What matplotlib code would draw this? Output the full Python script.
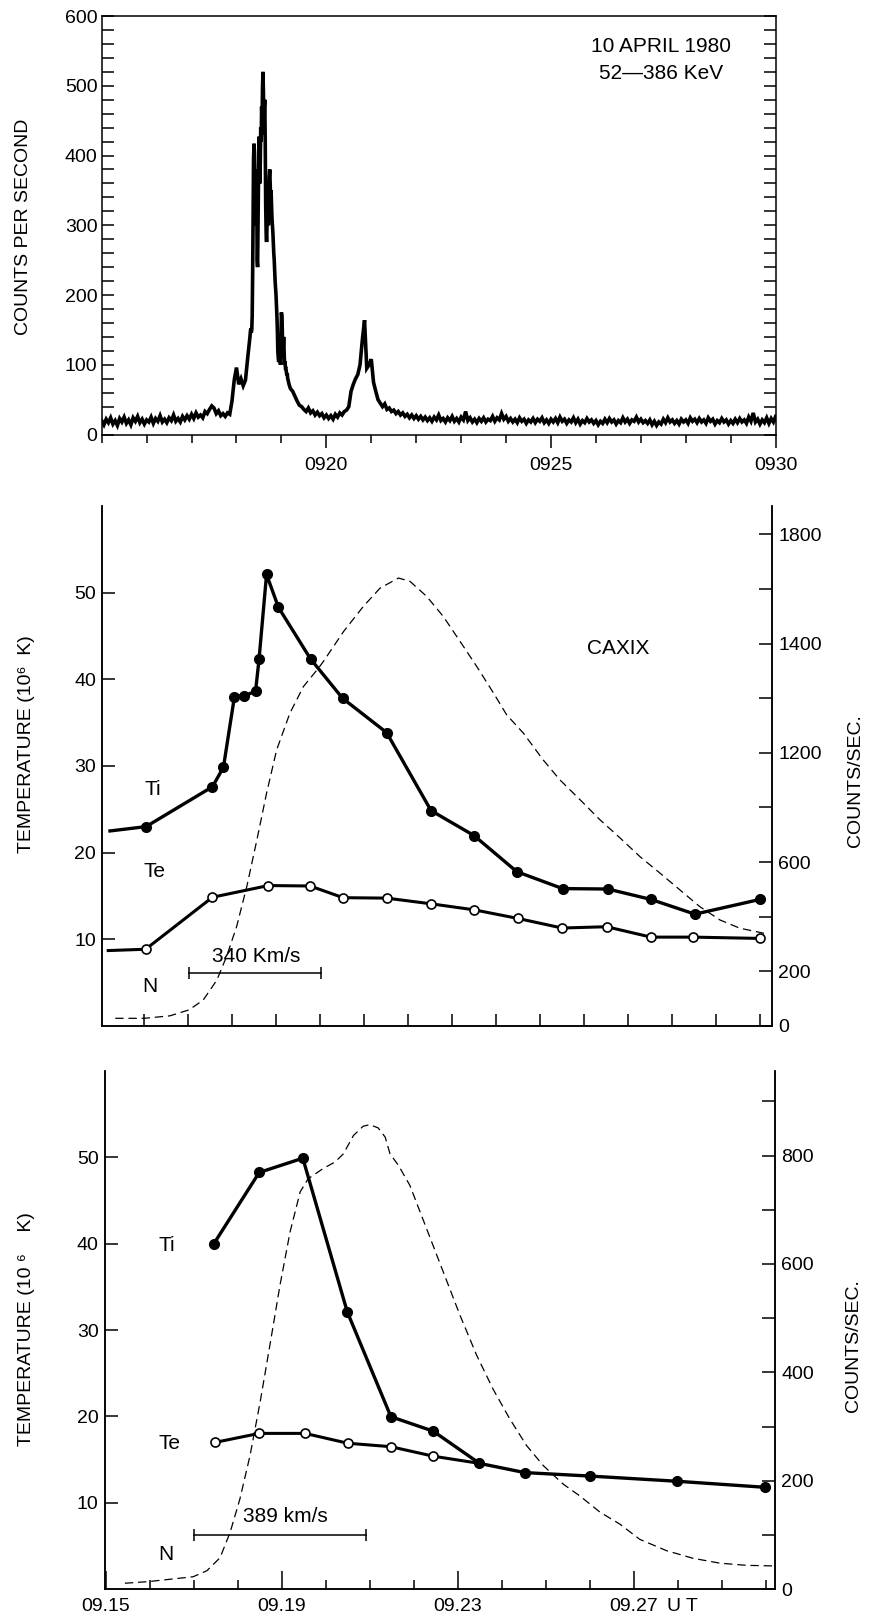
import numpy as np
import matplotlib
matplotlib.use("Agg")
import matplotlib.pyplot as plt
from matplotlib.ticker import MultipleLocator, FixedLocator, FixedFormatter
from matplotlib.transforms import blended_transform_factory, offset_copy

plt.rcParams['font.family'] = ['Liberation Sans', 'DejaVu Sans']
plt.rcParams['lines.scale_dashes'] = False

# ---- panel 1: hard X-ray counts, 10 April 1980 (time in minutes after 09:00)
cps_a = [20, 14, 22, 17, 24, 15, 20, 13, 23, 18,
         25, 16, 21, 14, 24, 19, 26, 17, 22, 15,
         21, 18, 25, 16, 23, 19, 27, 18, 22, 17,
         24, 20, 28, 19, 23, 18, 26, 21, 27, 22,
         29, 23, 31, 25, 28, 24, 33, 30, 36, 41,
         38, 30, 34, 27, 30, 26, 31, 29, 48, 78,
         96, 72, 80, 70, 78, 110]          # 15.00 .. 18.25, every 0.05 min
cps_b = [140, 148, 152, 146, 150, 170, 230, 320, 395, 417,
         405, 360, 300, 330, 380, 360, 250, 240, 300, 370,
         427, 400, 360, 390, 440, 420, 470, 450, 500, 520,
         490, 430, 470, 480, 420, 330, 290, 276, 300, 340,
         330, 300, 350, 370, 380, 360, 340, 350, 330, 310,
         300, 290, 275, 260, 250, 235, 220, 210, 200, 185,
         170, 150, 120, 110, 104, 112, 106, 110, 100, 130,
         175, 170, 150, 110, 125, 140, 120, 100, 105, 95,
         95, 90, 85, 88, 80, 78, 75, 72, 70, 68, 66]   # 18.30 .. 19.20, every 0.01 min
cps_c = [62, 55, 48, 42, 40,
         36, 33, 38, 31, 34, 28, 32, 27, 30, 24,
         28, 23, 27, 22, 29, 25, 31, 28, 33, 35,
         40, 62, 72, 80, 86, 100, 135, 164, 95, 100,
         108, 75, 62, 50, 45, 40, 44, 36, 38, 33,
         35, 30, 33, 28, 31, 26, 29, 24, 28, 23,
         27, 22, 26, 21, 25, 20, 24, 19, 25, 21,
         28, 20, 23, 18, 24, 20, 26, 19, 23, 18,
         25, 21, 33, 20, 24, 18, 22, 17, 23, 19,
         24, 18, 22, 20, 26, 19, 24, 21, 30, 22,
         26, 19, 23, 18, 22, 17, 24, 19, 22, 16,
         21, 18, 23, 17, 22, 19, 24, 17, 21, 16,
         22, 18, 23, 17, 25, 19, 22, 16, 21, 18,
         24, 17, 22, 15, 20, 17, 23, 18, 21, 16,
         20, 14, 19, 16, 22, 17, 23, 18, 21, 15,
         20, 17, 24, 18, 22, 16, 21, 19, 25, 18,
         22, 17, 20, 16, 21, 14, 19, 13, 18, 15,
         22, 17, 24, 18, 21, 16, 20, 15, 22, 18,
         21, 16, 24, 19, 22, 17, 23, 18, 21, 16,
         24, 19, 22, 15, 20, 17, 23, 18, 21, 15,
         20, 16, 22, 17, 23, 18, 21, 16, 25, 19,
         31, 18, 22, 15, 21, 17, 24, 16, 23, 18,
         26]                                # 19.25 .. 30.00, every 0.05 min

# ---- panel 2: CAXIX temperatures and counts
ti2_t = [15.22, 16.04, 17.55, 17.80, 18.05, 18.27, 18.53, 18.61, 18.78, 19.05, 19.78,
         20.51, 21.51, 22.52, 23.50, 24.47, 25.51, 26.54, 27.52, 28.52, 30.0]
ti2_T = [22.5, 23.0, 27.6, 29.85, 38.0, 38.1, 38.6, 42.35, 52.1, 48.3, 42.35,
         37.8, 33.85, 24.85, 21.96, 17.8, 15.85, 15.8, 14.6, 12.9, 14.6]
te2_t = [15.18, 16.03, 17.55, 18.82, 19.77, 20.52, 21.51, 22.51, 23.50, 24.50,
         25.50, 26.51, 27.52, 28.48, 30.0]
te2_T = [8.7, 8.85, 14.85, 16.2, 16.15, 14.8, 14.75, 14.1, 13.4, 12.4,
         11.3, 11.45, 10.25, 10.25, 10.1]
n2_t = [15.34, 16.0, 16.58, 17.02, 17.34, 17.65, 17.87, 18.1, 18.33, 18.56, 18.78,
        19.01, 19.31, 19.62, 19.96, 20.07, 20.53, 20.98, 21.36, 21.78, 22.04, 22.42,
        22.80, 23.18, 23.56, 23.94, 24.24, 24.62, 25.07, 25.45, 25.91, 26.36, 26.82,
        27.27, 27.73, 28.18, 28.63, 29.09, 29.54, 30.16]
n2_c = [28, 28, 37, 59, 95, 168, 254, 364, 510, 681, 852,
        1011, 1145, 1243, 1310, 1334, 1444, 1536, 1603, 1640, 1628, 1573,
        1499, 1408, 1316, 1219, 1139, 1072, 974, 901, 828, 755, 688,
        620, 559, 498, 437, 388, 358, 337]
r2_ticks = [0, 200, 400, 600, 800, 1000, 1200, 1400, 1600, 1800]
r2_labels = ['0', '200', '', '600', '', '1200', '', '1400', '', '1800']

# ---- panel 3
ti3_t = [17.46, 18.49, 19.48, 20.49, 21.48, 22.44, 23.49, 24.52, 26.0, 27.97, 29.97]
ti3_T = [40.0, 48.25, 49.9, 32.1, 19.97, 18.3, 14.57, 13.5, 13.1, 12.5, 11.8]
te3_t = [17.49, 18.49, 19.53, 20.50, 21.48, 22.44, 23.49]
te3_T = [17.0, 18.04, 18.04, 16.9, 16.5, 15.4, 14.57]
n3_t = [15.44, 15.97, 16.99, 17.30, 17.60, 17.83, 18.05, 18.28, 18.51, 18.73, 18.96,
        19.19, 19.42, 19.60, 19.94, 20.21, 20.40, 20.63, 20.85, 21.0, 21.19, 21.35,
        21.46, 21.65, 21.91, 22.29, 22.67, 23.05, 23.43, 23.80, 24.18, 24.56, 24.94,
        25.39, 25.77, 26.23, 26.68, 27.13, 27.74, 28.34, 28.95, 29.56, 30.16]
n3_c = [11, 14, 23, 34, 58, 105, 166, 246, 345, 449, 560,
        659, 733, 757, 776, 788, 803, 837, 854, 857, 851, 834,
        803, 782, 745, 665, 585, 505, 431, 369, 314, 265, 228,
        194, 172, 142, 120, 92, 71, 57, 48, 44, 43]
r3_ticks = [0, 100, 200, 300, 400, 500, 600, 700, 800, 900]
r3_labels = ['0', '', '200', '', '400', '', '600', '', '800', '']
x3_major = [15, 19, 23, 27]
x3_labels = ['09.15', '09.19', '09.23', '09.27']

FS = 14
TFS = 15      # annotation text
SPW = 1.1

t1 = np.concatenate([15.0 + 0.05 * np.arange(len(cps_a)),
                     18.30 + 0.01 * np.arange(len(cps_b)),
                     19.25 + 0.05 * np.arange(len(cps_c))])
c1 = np.array(cps_a + cps_b + cps_c)

fig = plt.figure(figsize=(8.69, 16.19), dpi=100)

# ---------------- panel 1
ax1 = fig.add_axes([0.1170, 0.7316, 0.7756, 0.2585])
ax1.plot(t1, c1, color='k', lw=2.6, solid_joinstyle='miter')
ax1.set_xlim(15, 30)
ax1.set_ylim(0, 600)
ax1.yaxis.set_major_locator(MultipleLocator(100))
ax1.yaxis.set_minor_locator(MultipleLocator(20))
ax1.tick_params(axis='y', which='both', direction='in', left=True, right=True,
                length=8.5, width=SPW, labelsize=FS, pad=3)
ax1.xaxis.set_major_locator(FixedLocator([20, 25, 30]))
ax1.xaxis.set_major_formatter(FixedFormatter(['0920', '0925', '0930']))
ax1.xaxis.set_minor_locator(MultipleLocator(1))
ax1.tick_params(axis='x', which='major', direction='out', length=9, width=SPW,
                labelsize=FS, pad=7)
ax1.tick_params(axis='x', which='minor', direction='out', length=6, width=SPW)
for s in ax1.spines.values():
    s.set_linewidth(SPW)
ax1.text(27.45, 557, '10 APRIL 1980', ha='center', va='center', fontsize=TFS)
ax1.text(27.45, 517, '52\u2014386 KeV', ha='center', va='center', fontsize=TFS)
fig.text(0.0276, 0.8598, 'COUNTS PER SECOND', rotation=90, ha='center',
         va='center', fontsize=FS)


def temp_panel(rect, xlim, rmax):
    ax = fig.add_axes(rect)
    axr = ax.twinx()
    ax.set_zorder(axr.get_zorder() + 1)
    ax.patch.set_visible(False)
    for a in (ax, axr):
        a.spines['top'].set_visible(False)
        for s in a.spines.values():
            s.set_linewidth(SPW)
    ax.set_xlim(*xlim)
    ax.set_ylim(0, 60)
    axr.set_ylim(0, rmax)
    ax.yaxis.set_major_locator(FixedLocator([10, 20, 30, 40, 50]))
    ax.tick_params(axis='y', direction='in', length=9.3, width=SPW,
                   labelsize=FS, pad=4.6)
    axr.tick_params(axis='y', direction='in', length=9.3, width=SPW,
                    labelsize=FS, pad=4.6)
    return ax, axr


def draw_series(ax, axr, ti_t, ti_T, te_t, te_T, n_t, n_c, ti_skip, te_last):
    axr.plot(n_t, n_c, color='k', lw=0.9, dashes=(6, 3.5))
    ax.plot(ti_t, ti_T, color='k', lw=2.4, marker='o', ms=7,
            markevery=list(range(ti_skip, len(ti_t))))
    ax.plot(te_t, te_T, color='k', lw=2.2, marker='o', ms=6.5, mfc='white',
            mec='k', mew=1.2, markevery=list(range(1 if te_last else 0,
                                                   len(te_t) - (0 if te_last else 1))))


# ---------------- panel 2
ax2, ax2r = temp_panel([0.1177, 0.3663, 0.7703, 0.3212], (15.045, 30.265), 1904)
ax2.xaxis.set_major_locator(FixedLocator(list(range(16, 31))))
ax2.tick_params(axis='x', direction='in', length=8.5, width=SPW, labelbottom=False)
ax2r.yaxis.set_major_locator(FixedLocator(r2_ticks))
ax2r.yaxis.set_major_formatter(FixedFormatter(r2_labels))
draw_series(ax2, ax2r, ti2_t, ti2_T, te2_t, te2_T, n2_t, n2_c, 1, True)
ax2.plot([17.02, 20.02], [6.08, 6.08], color='k', lw=1.1, marker='|', ms=9, mew=1.1)
ax2.text(18.55, 8.05, '340 Km/s', ha='center', va='center', fontsize=TFS)
ax2.text(16.2, 27.3, 'Ti', ha='center', va='center', fontsize=TFS)
ax2.text(16.24, 17.8, 'Te', ha='center', va='center', fontsize=TFS)
ax2.text(16.13, 4.5, 'N', ha='center', va='center', fontsize=TFS)
ax2.text(26.78, 43.5, 'CAXIX', ha='center', va='center', fontsize=TFS)
fig.text(0.0305, 0.5405, 'TEMPERATURE (10\u2076  K)', rotation=90, ha='center',
         va='center', fontsize=FS)
fig.text(0.984, 0.518, 'COUNTS/SEC.', rotation=90, ha='center', va='center',
         fontsize=FS)

# ---------------- panel 3
ax3, ax3r = temp_panel([0.1208, 0.0184, 0.7710, 0.3201], (14.988, 30.20), 956)
ax3.xaxis.set_major_locator(FixedLocator(x3_major))
ax3.xaxis.set_major_formatter(FixedFormatter(x3_labels))
ax3.xaxis.set_minor_locator(FixedLocator([16, 17, 18, 20, 21, 22, 24, 25, 26, 28, 29, 30]))
ax3.tick_params(axis='x', which='major', direction='in', length=12.7, width=SPW,
                labelsize=FS, pad=6.5)
ax3.tick_params(axis='x', which='minor', direction='in', length=6.7, width=SPW)
ax3r.yaxis.set_major_locator(FixedLocator(r3_ticks))
ax3r.yaxis.set_major_formatter(FixedFormatter(r3_labels))
draw_series(ax3, ax3r, ti3_t, ti3_T, te3_t, te3_T, n3_t, n3_c, 0, False)
ax3.plot([17.02, 20.92], [6.26, 6.26], color='k', lw=1.1, marker='|', ms=9, mew=1.1)
ax3.text(19.08, 8.4, '389 km/s', ha='center', va='center', fontsize=TFS)
ax3.text(16.39, 39.8, 'Ti', ha='center', va='center', fontsize=TFS)
ax3.text(16.46, 16.9, 'Te', ha='center', va='center', fontsize=TFS)
ax3.text(16.37, 4.06, 'N', ha='center', va='center', fontsize=TFS)
trans = offset_copy(blended_transform_factory(ax3.transData, ax3.transAxes),
                    fig=fig, y=-6.5, units='points')
ax3.text(27.74, 0, 'U T', transform=trans, ha='left', va='top', fontsize=FS)
fig.text(0.030, 0.179, 'TEMPERATURE (10 \u2076    K)', rotation=90, ha='center',
         va='center', fontsize=FS)
fig.text(0.982, 0.1686, 'COUNTS/SEC.', rotation=90, ha='center', va='center',
         fontsize=FS)

fig.savefig('out.png', dpi=100)
